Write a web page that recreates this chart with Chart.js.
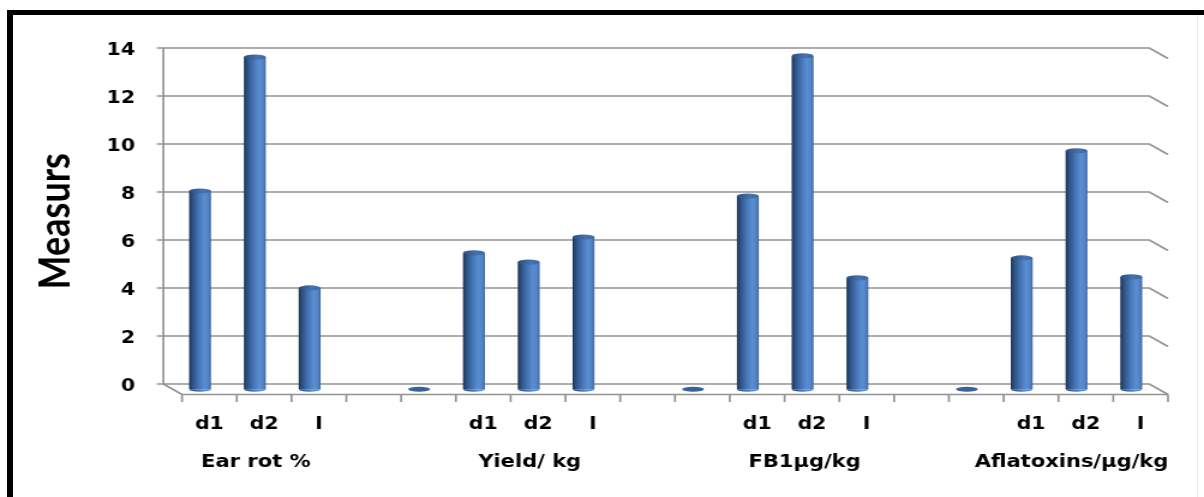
<!DOCTYPE html>
<html>
<head>
<meta charset="utf-8">
<script src="https://cdn.jsdelivr.net/npm/chart.js@4.4.1/dist/chart.umd.min.js"></script>
<style>
  html, body { margin: 0; padding: 0; background: #fff; }
  #wrap { position: relative; width: 1204px; height: 497px; overflow: hidden; background: #fff; }
  #c { position: absolute; left: 0; top: 0; }
  #frame { position: absolute; left: 7px; top: 10px; width: 1197px; height: 487px;
           border-top: 5px solid #000; border-left: 6px solid #000; box-sizing: border-box; }
  #edge { position: absolute; left: 1197px; top: 15px; width: 1px; height: 482px; background: #ececec; }
</style>
</head>
<body>
<div id="wrap">
  <canvas id="c" width="1003" height="497" style="width:1204px;height:497px"></canvas>
  <div id="frame"></div>
  <div id="edge"></div>
</div>
<script>
// Treatment labels along the floor of the chart (empty slots separate the groups)
const categories = ['d1', 'd2', 'I', '', '', 'd1', 'd2', 'I', '', '', 'd1', 'd2', 'I', '', '', 'd1', 'd2', 'I'];
// Measured value per slot; null = empty slot, 0 = flat disc
const values = [8.26, 13.84, 4.22, null, 0, 5.68, 5.30, 6.34, null, 0, 8.05, 13.89, 4.64, null, 0, 5.47, 9.93, 4.68];
// Measure names written under each group of three treatments
const groupNames = ['Ear rot %', 'Yield/ kg', 'FB1µg/kg', 'Aflatoxins/µg/kg'];
// Slot index under which each group name is centred
const groupCenters = [1, 6, 11, 16];
// Value axis
const yMin = 0, yMax = 14, yStep = 2;
const yTitle = 'Measurs';

// The canvas is drawn 1003 px wide and shown 1204 px wide (wide lettering)
const S = 1204 / 1003;
const DX = 18.7 / S;   // horizontal depth of the 3-D box
const DY = 10.5;       // vertical depth of the 3-D box
const BAR_PCT = 0.4;
const RY = 2.6;        // vertical radius of the cylinder ends

function bodyGradient(ctx, cx, hw) {
  const g = ctx.createLinearGradient(cx - hw, 0, cx + hw, 0);
  g.addColorStop(0.00, '#1d3557');
  g.addColorStop(0.18, '#2f5488');
  g.addColorStop(0.45, '#4676b6');
  g.addColorStop(0.70, '#5a8ed2');
  g.addColorStop(0.88, '#5283c6');
  g.addColorStop(1.00, '#3a66a2');
  return g;
}

// Back wall, floor and tick marks of the 3-D box
const box3d = {
  id: 'box3d',
  beforeDatasetsDraw(chart) {
    const { ctx, chartArea, scales: { x, y } } = chart;
    const bL = chartArea.left - DX / 2, bR = chartArea.right - DX / 2;
    const fL = chartArea.left + DX / 2, fR = chartArea.right + DX / 2;
    ctx.save();
    ctx.strokeStyle = '#939393';
    ctx.lineWidth = 1.7;
    for (let v = yMin; v <= yMax; v += yStep) {
      const yb = y.getPixelForValue(v) - DY / 2;
      ctx.beginPath();
      ctx.moveTo(bL - 6.5 / S, yb);
      ctx.lineTo(bR, yb);
      ctx.lineTo(fR, yb + DY);
      ctx.stroke();
    }
    const top = y.getPixelForValue(yMax) - DY / 2;
    const zb = y.getPixelForValue(yMin) - DY / 2;
    ctx.beginPath();
    ctx.moveTo(bL, top);
    ctx.lineTo(bL, zb);
    ctx.lineTo(fL, zb + DY);
    ctx.lineTo(fR, zb + DY);
    ctx.stroke();
    for (let i = 0; i <= categories.length; i++) {
      const xf = x.getPixelForValue(i - 0.5) + DX / 2;
      ctx.beginPath();
      ctx.moveTo(xf, zb + DY);
      ctx.lineTo(xf, zb + DY + 7.5);
      ctx.stroke();
    }
    ctx.restore();
  }
};

// Rounded ends of the cylinders
const cylinders = {
  id: 'cylinders',
  afterDatasetsDraw(chart) {
    const ctx = chart.ctx;
    const meta = chart.getDatasetMeta(0);
    meta.data.forEach((bar, i) => {
      if (values[i] === null) return;
      const { x, y, base, width } = bar.getProps(['x', 'y', 'base', 'width'], true);
      const rx = width / 2;
      ctx.save();
      if (values[i] === 0) {
        ctx.fillStyle = '#3a629a';
        ctx.beginPath();
        ctx.ellipse(x, base, rx, RY, 0, 0, Math.PI * 2);
        ctx.fill();
      } else {
        ctx.fillStyle = bodyGradient(ctx, x, rx);
        ctx.beginPath();
        ctx.ellipse(x, base, rx, RY, 0, 0, Math.PI);
        ctx.fill();
        const cap = ctx.createLinearGradient(x - rx, 0, x + rx, 0);
        cap.addColorStop(0, '#2c4d7e');
        cap.addColorStop(0.6, '#4673b0');
        cap.addColorStop(1, '#3d679f');
        ctx.fillStyle = cap;
        ctx.beginPath();
        ctx.ellipse(x, y, rx, RY, 0, 0, Math.PI * 2);
        ctx.fill();
      }
      ctx.restore();
    });
  }
};

// Measure names under each group
const groupLabels = {
  id: 'groupLabels',
  afterDraw(chart) {
    const { ctx, scales: { x } } = chart;
    const nudge = [1, 1, 2, -5];
    ctx.save();
    ctx.font = 'bold 17.5px "DejaVu Sans"';
    ctx.fillStyle = '#000';
    ctx.textAlign = 'center';
    ctx.textBaseline = 'middle';
    groupNames.forEach((name, g) => {
      const cx = x.getPixelForValue(groupCenters[g]) + nudge[g] / S;
      ctx.fillText(name, cx, 462.5);
    });
    ctx.restore();
  }
};

const W = 1003, H = 497;
const plotLeft = (182 - 9.35) / S;
const plotRight = (1168 - 9.35) / S;
const plotTop = 53.25, plotBottom = 389.25;

new Chart(document.getElementById('c'), {
  type: 'bar',
  data: {
    labels: categories,
    datasets: [{
      data: values,
      barPercentage: BAR_PCT,
      categoryPercentage: 1.0,
      borderWidth: 0,
      backgroundColor(c) {
        const xs = c.chart.scales.x;
        if (!xs || c.dataIndex === undefined || !(xs.width > 0)) return '#4f81bd';
        const cx = xs.getPixelForValue(c.dataIndex);
        const hw = xs.width / categories.length * BAR_PCT / 2;
        return bodyGradient(c.chart.ctx, cx, hw);
      }
    }]
  },
  options: {
    responsive: false,
    devicePixelRatio: 1,
    animation: false,
    events: [],
    layout: { padding: { left: 0, right: W - plotRight, top: plotTop, bottom: 0 } },
    plugins: { legend: { display: false }, tooltip: { enabled: false } },
    scales: {
      x: {
        grid: { display: false, drawTicks: false },
        border: { display: false },
        ticks: {
          autoSkip: false, maxRotation: 0, padding: 25,
          labelOffset: 9.35 / S,
          color: '#000',
          font: { family: 'DejaVu Sans', weight: 'bold', size: 17 }
        },
        afterFit(s) { s.height = H - plotBottom; }
      },
      y: {
        min: yMin, max: yMax,
        grid: { display: false, drawTicks: false },
        border: { display: false },
        ticks: {
          stepSize: yStep, padding: plotLeft - 135 / S,
          labelOffset: -3,
          color: '#000',
          font: { family: 'DejaVu Sans', weight: 'bold', size: 17 }
        },
        title: {
          display: true, text: yTitle, color: '#000',
          font: { family: 'Lato', size: 36, weight: 'bold' },
          padding: { top: 25, bottom: 0 }
        },
        afterFit(s) { s.width = plotLeft; }
      }
    }
  },
  plugins: [box3d, cylinders, groupLabels]
});
</script>
</body>
</html>
